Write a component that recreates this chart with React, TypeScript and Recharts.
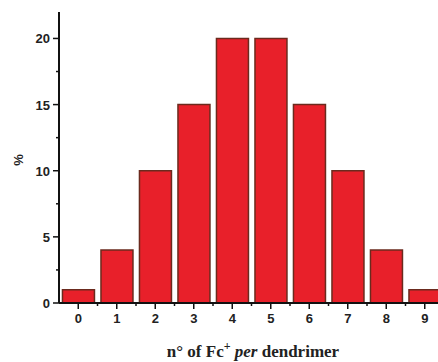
import React from "react";
import { Bar, BarChart, XAxis, YAxis } from "recharts";

const categories = ["0", "1", "2", "3", "4", "5", "6", "7", "8", "9"];
const percents = [1, 4, 10, 15, 20, 20, 15, 10, 4, 1];
const yTicks = [0, 2.5, 5, 7.5, 10, 12.5, 15, 17.5, 20];

const data = categories.map((c, i) => ({ n: c, pct: percents[i] }));

const W = 450;
const H = 362;
const M = { top: 12, right: 6, left: 19, bottom: 0 };
const Y_AXIS_W = 40;
const X_AXIS_H = 59;
const PLOT_LEFT = M.left + Y_AXIS_W;
const PLOT_W = W - PLOT_LEFT - M.right;
const PLOT_BOTTOM = H - M.bottom - X_AXIS_H;
const BAND = PLOT_W / categories.length;

const tickFont = { fontFamily: "'Liberation Sans', Arial, sans-serif", fontWeight: 700, fontSize: 13 };

const XTick = (props: any) => {
  const { x, payload } = props;
  return (
    <g>
      <line x1={x} x2={x} y1={PLOT_BOTTOM} y2={PLOT_BOTTOM + 6} stroke="#111" strokeWidth={1.5} />
      <line x1={x + BAND / 2} x2={x + BAND / 2} y1={PLOT_BOTTOM} y2={PLOT_BOTTOM + 3} stroke="#111" strokeWidth={1.5} />
      <text x={x} y={PLOT_BOTTOM + 20} textAnchor="middle" fill="#222" style={tickFont}>
        {payload.value}
      </text>
    </g>
  );
};

const YTick = (props: any) => {
  const { y, payload } = props;
  const major = payload.value % 5 === 0;
  return (
    <g>
      <line x1={PLOT_LEFT - (major ? 6 : 3)} x2={PLOT_LEFT} y1={y} y2={y} stroke="#111" strokeWidth={1.5} />
      {major ? (
        <text x={PLOT_LEFT - 9} y={y + 5} textAnchor="end" fill="#222" style={tickFont}>
          {payload.value}
        </text>
      ) : null}
    </g>
  );
};

export default function App() {
  return (
    <div style={{ position: "absolute", left: 0, top: 0, width: 438, height: 362, overflow: "hidden", background: "#fff" }}>
      <BarChart width={W} height={H} data={data} margin={M} barCategoryGap="9%">
        <XAxis
          dataKey="n"
          height={X_AXIS_H}
          axisLine={{ stroke: "#111", strokeWidth: 2 }}
          tickLine={false}
          tick={<XTick />}
          interval={0}
        />
        <YAxis
          width={Y_AXIS_W}
          domain={[0, 22]}
          ticks={yTicks}
          interval={0}
          axisLine={{ stroke: "#111", strokeWidth: 2 }}
          tickLine={false}
          tick={<YTick />}
        />
        <Bar dataKey="pct" fill="#e8202a" stroke="#6b2a1e" strokeWidth={1.5} isAnimationActive={false} />
        <text
          x={20}
          y={160}
          transform="rotate(-90 20 160)"
          textAnchor="middle"
          dominantBaseline="middle"
          fill="#222"
          style={{ ...tickFont, fontSize: 13 }}
        >
          %
        </text>
        <text
          x={253}
          y={357}
          textAnchor="middle"
          fill="#222"
          style={{ fontFamily: "'Liberation Serif', 'Times New Roman', serif", fontWeight: 700, fontSize: 17 }}
        >
          n° of Fc
          <tspan dy={-7} fontSize={12}>+</tspan>
          <tspan dy={7} fontStyle="italic"> per</tspan>
          <tspan> dendrimer</tspan>
        </text>
      </BarChart>
    </div>
  );
}
